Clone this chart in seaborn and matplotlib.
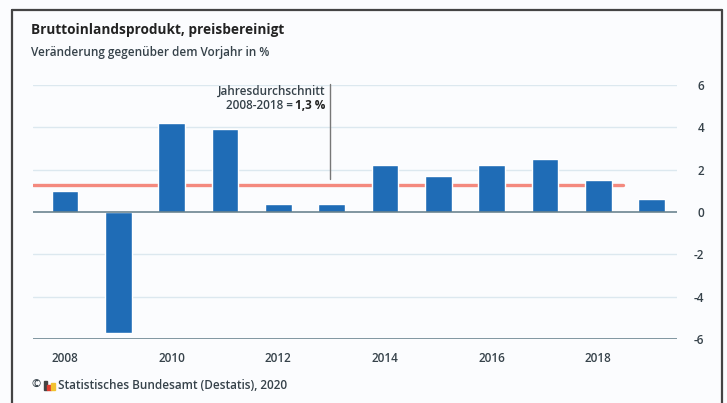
import matplotlib
matplotlib.use("Agg")
import matplotlib.pyplot as plt
import seaborn as sns
from matplotlib.lines import Line2D

years = [str(y) for y in range(2008, 2020)]
growth = [1.0, -5.7, 4.2, 3.9, 0.4, 0.4, 2.2, 1.7, 2.2, 2.5, 1.5, 0.6]
mean_value = 1.3
y_ticks = [-6, -4, -2, 0, 2, 4, 6]

sns.set_theme(style="white")
plt.rcParams["font.family"] = ["Open Sans", "DejaVu Sans"]

text_col = "#36424a"
bar_col = "#1f6cb6"
grid_col = "#dce8ef"
axis_col = "#5f7a86"

fig = plt.figure(figsize=(7.27, 4.03), dpi=100)
fig.patch.set_facecolor("#fbfcfe")
ax = fig.add_axes([0.0454, 0.1588, 0.886, 0.6302])
ax.set_facecolor("none")

sns.barplot(x=years, y=growth, color=bar_col, width=0.5, saturation=1, ax=ax, zorder=3)

ax.set_xlim(-0.6, 11.48)
ax.set_ylim(-6, 6)
for t in y_ticks:
    if t in (0, -6):
        ax.axhline(t, color=axis_col, lw=1.1, zorder=4)
    else:
        ax.axhline(t, color=grid_col, lw=1, zorder=1)

# Jahresdurchschnitt
ax.plot([-0.6, 10.47], [mean_value, mean_value], color="#f4897e", lw=2.4, zorder=2)
ax.plot([4.97, 4.97], [1.55, 6.05], color="#777777", lw=1, zorder=5, clip_on=False)
ax.text(4.88, 5.72, "Jahresdurchschnitt", ha="right", va="center", fontsize=8.5,
        color=text_col, fontweight="semibold")
val = ax.text(4.88, 5.02, "1,3 %", ha="right", va="center", fontsize=8.5,
              color="#222222", fontweight="bold")
fig.canvas.draw()
vw = val.get_window_extent()
inv = ax.transData.inverted()
x_left = inv.transform((vw.x0, vw.y0))[0]
ax.text(x_left - 0.03, 5.02, "2008-2018 =", ha="right", va="center", fontsize=8.5,
        color=text_col, fontweight="semibold")

for s in ax.spines.values():
    s.set_visible(False)

ax.yaxis.tick_right()
ax.set_yticks(y_ticks)
ax.set_yticklabels([str(t) for t in y_ticks], fontsize=8.5, color=text_col, fontweight="semibold")
ax.tick_params(axis="y", length=0, pad=19.5)
for lab in ax.get_yticklabels():
    lab.set_horizontalalignment("right")
ax.set_xticks(range(0, 12, 2))
ax.set_xticklabels(years[::2], fontsize=8.5, color=text_col, fontweight="semibold")
ax.tick_params(axis="x", length=5, width=1, color=axis_col, pad=4, direction="out")
ax.set_xlabel("")

fig.text(0.0427, 0.925, "Bruttoinlandsprodukt, preisbereinigt", fontsize=9.8,
         fontweight="bold", color="#222222", va="center")
fig.text(0.0427, 0.870, "Veränderung gegenüber dem Vorjahr in %", fontsize=8.5,
         fontweight="semibold", color=text_col, va="center")
fig.text(31 / 727, 0.043, "©", fontsize=8, fontweight="semibold", color=text_col, va="center")
fig.text(58 / 727, 0.043, "Statistisches Bundesamt (Destatis), 2020", fontsize=8.5,
         fontweight="semibold", color=text_col, va="center")

# small logo
fig.add_artist(plt.Rectangle((44 / 727, 13 / 403), 3 / 727, 9 / 403, transform=fig.transFigure,
                             color="#444444"))
fig.add_artist(plt.Rectangle((47 / 727, 13 / 403), 4 / 727, 5 / 403, transform=fig.transFigure,
                             color="#e03c31"))
fig.add_artist(plt.Rectangle((51 / 727, 13 / 403), 4 / 727, 7 / 403, transform=fig.transFigure,
                             color="#f2c230"))

# border
for xs, ys in [([12, 12], [0, 10]), ([12, 722], [10, 10]), ([722, 722], [0, 10])]:
    yy = [1 - ys[0] / 403 if ys[0] else 0, 1 - ys[1] / 403]
    if xs[0] != xs[1]:
        yy = [1 - 10 / 403, 1 - 10 / 403]
    fig.add_artist(Line2D([x / 727 for x in xs], yy, transform=fig.transFigure,
                          color="#444444", lw=1.6))

fig.savefig("out.png", dpi=100)
